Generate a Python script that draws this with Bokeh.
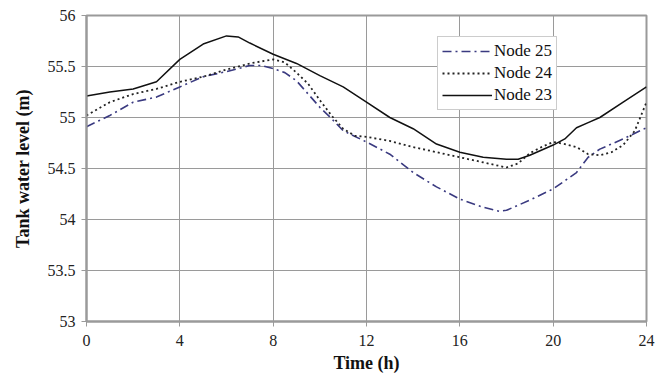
from bokeh.plotting import figure
from bokeh.models import Legend, LegendItem, FixedTicker
from bokeh.embed import file_html
from bokeh.resources import INLINE

# data
t23 = [0, 1, 2, 3, 4, 5, 6, 6.5, 7, 8, 9, 10, 11, 12, 13, 14, 15, 16, 17, 18, 18.5, 19, 20, 20.5, 21, 21.5, 22, 23, 24]
node23 = [55.21, 55.25, 55.28, 55.35, 55.57, 55.72, 55.8, 55.79, 55.73, 55.62, 55.53, 55.41, 55.3, 55.15, 55.0,
          54.89, 54.74, 54.66, 54.61, 54.59, 54.59, 54.63, 54.73, 54.79, 54.9, 54.95, 55.0, 55.15, 55.3]

t24 = [0, 1, 2, 3, 4, 5, 6, 7, 8, 8.5, 9, 9.5, 10, 10.5, 11, 11.5, 12, 13, 14, 15, 16, 17, 18, 18.5, 19, 19.5,
       20, 20.5, 21, 21.5, 22, 22.5, 23, 23.5, 24]
node24 = [55.02, 55.15, 55.23, 55.28, 55.35, 55.4, 55.47, 55.53, 55.57, 55.54, 55.44, 55.33, 55.17, 55.02, 54.89,
          54.82, 54.81, 54.77, 54.71, 54.66, 54.61, 54.56, 54.51, 54.55, 54.65, 54.71, 54.76, 54.74, 54.71, 54.64,
          54.63, 54.66, 54.73, 54.87, 55.15]

t25 = [0, 1, 2, 3, 4, 5, 6, 7, 7.5, 8, 8.5, 9, 9.5, 10, 10.5, 11, 12, 13, 14, 15, 16, 17, 17.7, 18, 19, 20, 21,
       21.5, 22, 23, 24]
node25 = [54.91, 55.02, 55.15, 55.2, 55.3, 55.4, 55.45, 55.51, 55.51, 55.48, 55.44, 55.36, 55.23, 55.1, 54.99,
          54.87, 54.76, 54.64, 54.46, 54.32, 54.2, 54.12, 54.08, 54.09, 54.19, 54.3, 54.46, 54.61, 54.69, 54.79, 54.9]

x_ticks = [0, 4, 8, 12, 16, 20, 24]
y_ticks = [53, 53.5, 54, 54.5, 55, 55.5, 56]
y_tick_labels = ["53", "53.5", "54", "54.5", "55", "55.5", "56"]

FONT = "'Liberation Serif', 'Times New Roman', serif"
GRID = "#9a9a9a"

p = figure(width=670, height=383, output_backend="svg", toolbar_location=None,
           x_range=(0, 24), y_range=(53, 56),
           min_border_left=86, min_border_right=24, min_border_top=15, min_border_bottom=62)
p.frame_width = 560
p.frame_height = 306

p.xaxis.ticker = FixedTicker(ticks=x_ticks)
p.yaxis.ticker = FixedTicker(ticks=y_ticks)
p.yaxis.major_label_overrides = {v: s for v, s in zip(y_ticks, y_tick_labels)}
p.xaxis.major_label_overrides = {v: str(v) for v in x_ticks}

for ax in (p.xaxis, p.yaxis):
    ax.axis_line_color = GRID
    ax.axis_line_width = 2
    ax.major_tick_line_color = GRID
    ax.major_tick_out = 5
    ax.major_tick_in = 0
    ax.minor_tick_line_color = None
    ax.major_label_text_font = FONT
    ax.major_label_text_font_size = "16px"
    ax.major_label_text_color = "#222222"
    ax.axis_label_text_font = FONT
    ax.axis_label_text_font_size = "18px"
    ax.axis_label_text_font_style = "bold"
    ax.axis_label_text_color = "#111111"

p.xaxis.axis_label = "Time (h)"
p.yaxis.axis_label = "Tank water level (m)"
p.xaxis.major_label_standoff = 8
p.yaxis.major_label_standoff = 6
p.xaxis.axis_label_standoff = 4
p.yaxis.axis_label_standoff = 12

p.xgrid.grid_line_color = GRID
p.ygrid.grid_line_color = GRID
p.xgrid.grid_line_width = 1
p.ygrid.grid_line_width = 1
p.outline_line_color = GRID
p.outline_line_width = 2

r25 = p.line(t25, node25, line_color="#3a3a80", line_width=1.6, line_dash="9 4 2 4")
r24 = p.line(t24, node24, line_color="#222222", line_width=1.8, line_dash="2 3")
r23 = p.line(t23, node23, line_color="#111111", line_width=1.5)

legend = Legend(items=[LegendItem(label="Node 25", renderers=[r25]),
                       LegendItem(label="Node 24", renderers=[r24]),
                       LegendItem(label="Node 23", renderers=[r23])],
                location=(351, 211))
legend.label_text_font = FONT
legend.label_text_font_size = "17px"
legend.label_text_color = "#111111"
legend.glyph_width = 50
legend.glyph_height = 20
legend.label_height = 20
legend.spacing = 2
legend.padding = 4
legend.margin = 0
legend.label_standoff = 2
legend.border_line_color = GRID
legend.border_line_width = 1.5
legend.background_fill_color = "white"
legend.background_fill_alpha = 1
p.add_layout(legend, "center")

open("out.html", "w").write(file_html(p, INLINE))
